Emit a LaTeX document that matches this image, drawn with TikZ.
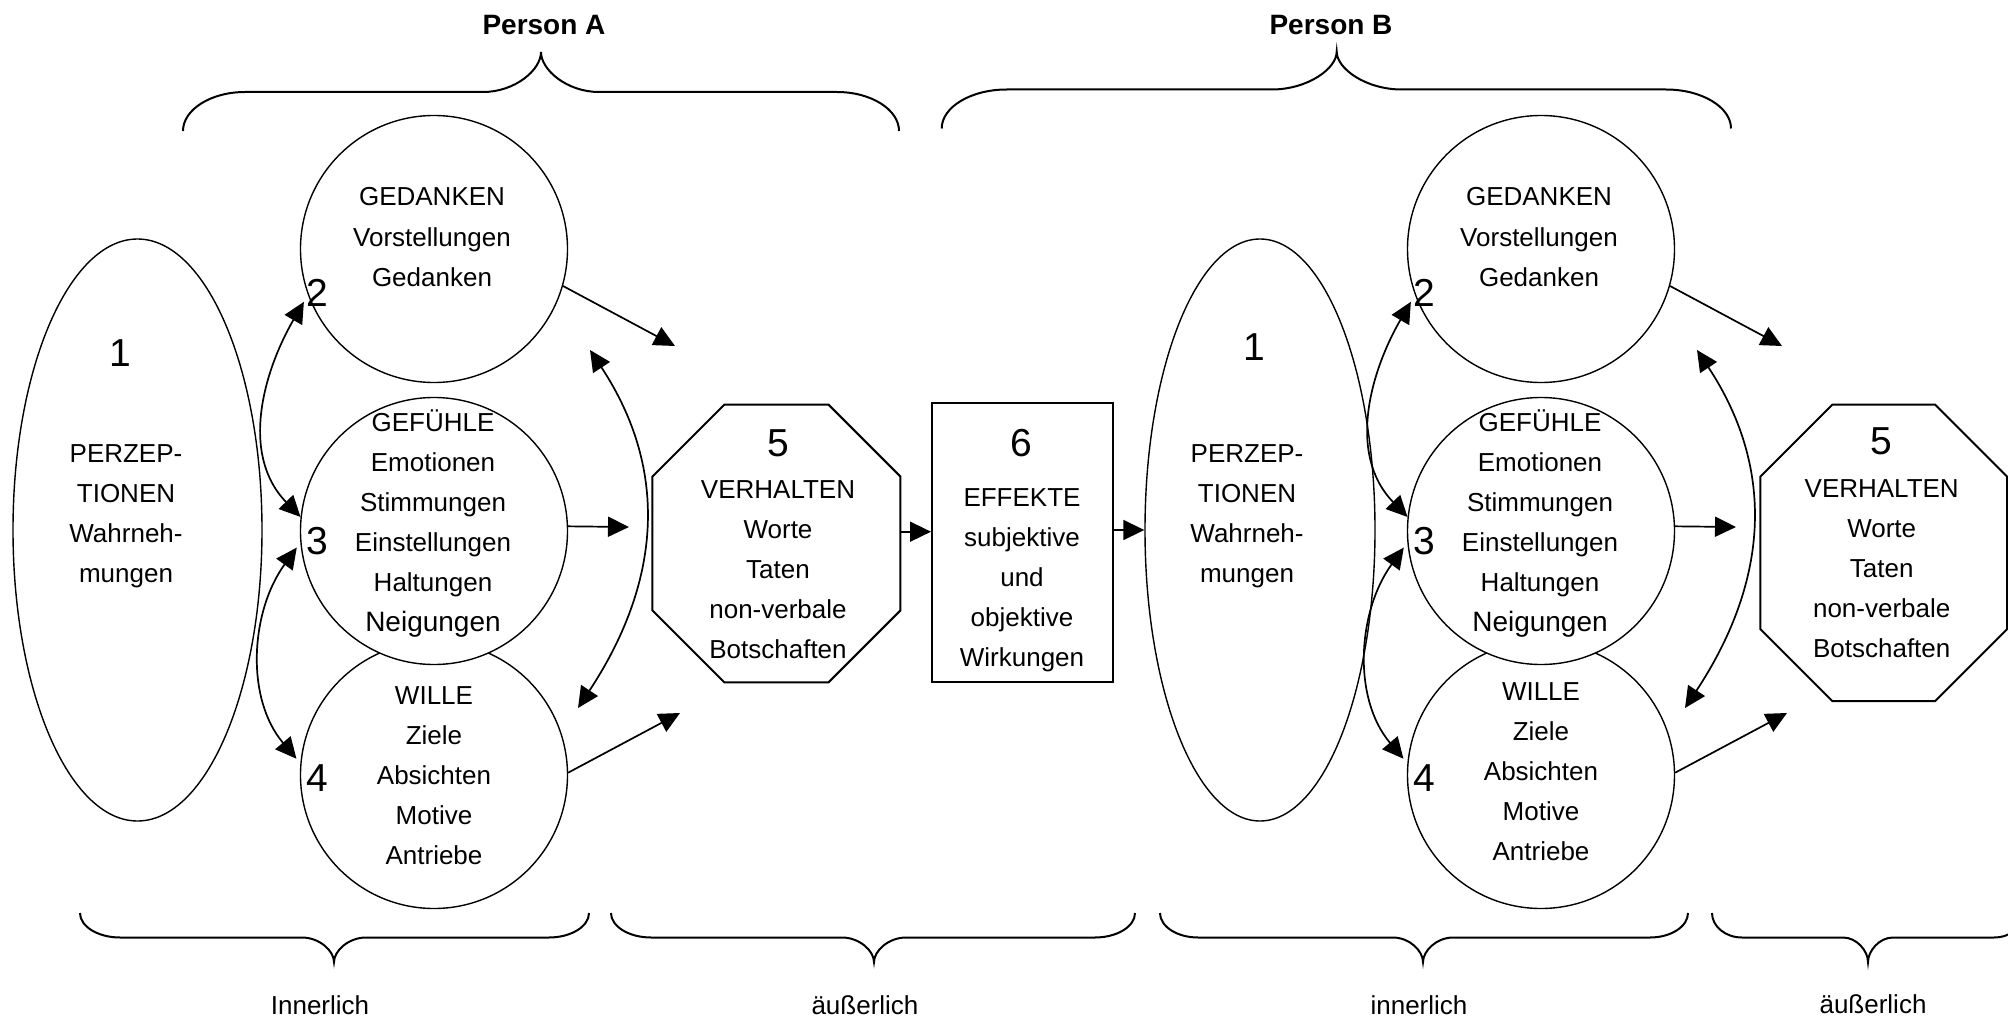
\documentclass[tikz,border=0pt]{standalone}
\usepackage{fontspec}
\setmainfont{Liberation Sans}
\usetikzlibrary{arrows.meta,shapes.geometric,calc}
\tikzset{
  txt/.style={font=\fontsize{13}{20}\selectfont, align=center, inner sep=0pt},
  num/.style={font=\fontsize{19.5}{22}\selectfont, inner sep=0pt},
  lbl/.style={font=\fontsize{13}{16}\selectfont, inner sep=0pt},
  ttl/.style={font=\fontsize{14}{16}\selectfont\bfseries, inner sep=0pt},
  circ/.style={circle, draw, line width=0.7pt, fill=white, minimum size=133.5pt, inner sep=0pt},
  ell/.style={ellipse, draw, line width=0.7pt, inner sep=0pt, minimum height=291pt},
  octbox/.style={rectangle, draw=none, inner sep=0pt},
  effbox/.style={rectangle, draw, line width=0.75pt, inner sep=0pt, minimum width=90.65pt, minimum height=139.5pt},
  oct/.style={line width=1pt},
  brc/.style={line width=1pt},
  arr/.style={line width=0.85pt, -{Triangle[length=10.5pt,width=10pt]}},
  darr/.style={line width=0.85pt, {Triangle[length=10.5pt,width=10pt]}-{Triangle[length=10.5pt,width=10pt]}},
}
% brace: x1, x2, xtip, yend, yline, ytip, corner width, tip width
\newcommand\bracepath[8]{%
  \draw[brc] (#1,#4) .. controls (#1,{#4-0.55*(#4-#5)}) and ({#1+0.45*#7},#5) .. ({#1+#7},#5)
    -- ({#3-#8},#5) .. controls ({#3-0.45*#8},#5) and (#3,{#5-0.55*(#5-#6)}) .. (#3,#6)
    .. controls (#3,{#5-0.55*(#5-#6)}) and ({#3+0.45*#8},#5) .. ({#3+#8},#5)
    -- ({#2-#7},#5) .. controls ({#2-0.45*#7},#5) and (#2,{#4-0.55*(#4-#5)}) .. (#2,#4);}
% octagon around a named box node
\newcommand\octpath[2]{%
  \draw[oct] ($(#1.north west)+(#2,0)$) -- ($(#1.north east)+(-#2,0)$) -- ($(#1.north east)+(0,#2)$)
    -- ($(#1.south east)+(0,-#2)$) -- ($(#1.south east)+(-#2,0)$) -- ($(#1.south west)+(#2,0)$)
    -- ($(#1.south west)+(0,-#2)$) -- ($(#1.north west)+(0,#2)$) -- cycle;}
% circles 2,3,4 with their connectors
\newcommand\persongroup[3]{%
  \node[circ] (c4#1) at ({434+#2},775) {};
  \node[circ] (c3#1) at ({434+#2},531) {};
  \node[circ] (c2#1) at ({434+#2},249) {};
  \node[txt] (g2#1) at ({432+#2},238) {\strut GEDANKEN\\\strut Vorstellungen\\\strut Gedanken};
  \node[txt] (g3#1) at ({433+#2},523) {\strut GEFÜHLE\\\strut Emotionen\\\strut Stimmungen\\\strut Einstellungen\\\strut Haltungen\\{\fontsize{14}{20}\selectfont\strut Neigungen}};
  \node[txt] (g4#1) at ({434+#2},#3) {\strut WILLE\\\strut Ziele\\\strut Absichten\\\strut Motive\\\strut Antriebe};
  \node[num] (n2#1) at ({317+#2},293) {2};
  \node[num] (n3#1) at ({317+#2},541) {3};
  \node[num] (n4#1) at ({317+#2},778) {4};
  \coordinate (p2#1) at ({675+#2},346);
  \coordinate (p3#1) at ({629+#2},527);
  \coordinate (p4#1) at ({680+#2},713);
  \coordinate (q1#1) at ({590+#2},350);
  \coordinate (q2#1) at ({578+#2},708);
  \draw[arr] (c2#1.-16) -- (p2#1);
  \draw[arr] (c3#1.2) -- (p3#1);
  \draw[arr] (c4#1.1) -- (p4#1);
  \draw[darr] (q1#1) .. controls +(81,123) and +(81,-123) .. (q2#1);
  \draw[darr, shorten <=4pt] (c2#1.200) .. controls +(-44,76) and +(-61,-63) .. (c3#1.174);
  \draw[darr, shorten <=3pt, shorten >=3pt] (c3#1.185) .. controls +(-50,69) and +(-55,-65) .. (c4#1.175);
}
\begin{document}
\begin{tikzpicture}[x=0.5pt,y=-0.5pt]
\useasboundingbox (0,0) rectangle (2008,1016);
\clip (0,0) rectangle (2008,1016);

% titles
\node[ttl] (pA) at (544,25) {Person A};
\node[ttl] (pB) at (1331,25) {Person B};

% top braces
\bracepath{183}{899}{541}{131}{92}{52}{62}{58}
\bracepath{941.7}{1731}{1336.7}{128.5}{89.5}{51.7}{65}{65}

% bottom braces
\bracepath{80}{589}{334}{913}{937.5}{962}{40}{32}
\bracepath{611}{1135}{874}{913}{937.5}{962}{40}{32}
\bracepath{1160}{1688}{1423}{913}{937.5}{962}{38}{30}
\bracepath{1712}{2024}{1868}{913}{937.5}{962}{30}{25}

% bottom labels
\node[lbl] (lA1) at (320,1005) {Innerlich};
\node[lbl] (lA2) at (865,1005) {äußerlich};
\node[lbl] (lB1) at (1419,1005) {innerlich};
\node[lbl] (lB2) at (1873,1004) {äußerlich};

% perception ellipses
\node[ell, minimum width=124.5pt] (e1A) at (137.5,530) {};
\node[num] (n1A) at (120,353) {1};
\node[txt] (t1A) at (126,514) {\strut PERZEP-\\\strut TIONEN\\\strut Wahrneh-\\\strut mungen};
\node[ell, minimum width=115pt] (e1B) at (1260,530) {};
\node[num] (n1B) at (1254,347) {1};
\node[txt] (t1B) at (1247,514) {\strut PERZEP-\\\strut TIONEN\\\strut Wahrneh-\\\strut mungen};

% circle groups
\persongroup{A}{0}{776.5}
\persongroup{B}{1107}{772}

% behaviour octagons
\node[octbox, minimum width=123.65pt, minimum height=138.5pt] (o5A) at (776.4,543.5) {};
\octpath{o5A}{72}
\node[num] (n5A) at (778,443) {5};
\node[txt] (t5A) at (778,570) {\strut VERHALTEN\\\strut Worte\\\strut Taten\\\strut non-verbale\\\strut Botschaften};

\node[octbox, minimum width=123pt, minimum height=147.85pt] (o5B) at (1883.7,552.9) {};
\octpath{o5B}{72}
\node[num] (n5B) at (1881.7,441.7) {5};
\node[txt] (t5B) at (1881.7,569) {\strut VERHALTEN\\\strut Worte\\\strut Taten\\\strut non-verbale\\\strut Botschaften};

% effects box
\node[effbox] (b6) at (1022.4,542.5) {};
\node[num] (n6) at (1021.7,443) {6};
\node[txt] (t6) at (1022,578.5) {\strut EFFEKTE\\\strut subjektive\\\strut und\\\strut objektive\\\strut Wirkungen};

% connectors between the main blocks
\coordinate (o5Ar) at ([yshift=5.9pt]o5A.east);
\draw[arr] (o5Ar) -- (o5Ar -| b6.west);
\draw[arr] (b6.east |- e1B.west) -- (e1B.west);
\end{tikzpicture}
\end{document}
